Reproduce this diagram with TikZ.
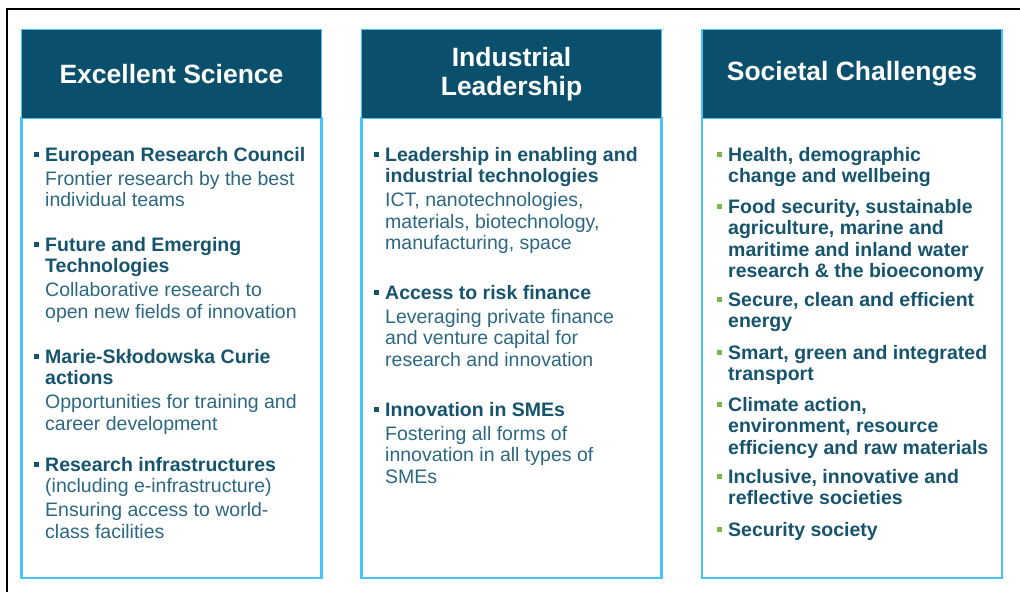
\documentclass[tikz,border=0pt]{standalone}
\usepackage{fontspec}
\setmainfont{Liberation Sans}
\definecolor{headfill}{RGB}{10,80,108}
\definecolor{edge}{RGB}{70,196,245}
\definecolor{boldtxt}{RGB}{22,84,110}
\definecolor{normtxt}{RGB}{44,104,130}
\definecolor{bulA}{RGB}{22,84,110}
\definecolor{bulG}{RGB}{122,182,72}
\newcommand\itemfont{\fontsize{19.5}{21.5}\selectfont}
\newcommand\B[1]{\textcolor{boldtxt}{\bfseries #1}}
\newcommand\N[1]{\textcolor{normtxt}{#1}}
\newcommand\bulA{\makebox[0pt][r]{\textcolor{bulA}{\rule[4.5pt]{4.5pt}{4.5pt}}\hspace{6.5pt}}}
\newcommand\bulG{\makebox[0pt][r]{\textcolor{bulG}{\rule[4.5pt]{4.5pt}{4.5pt}}\hspace{6.5pt}}}
\begin{document}
\begin{tikzpicture}[x=1pt,y=-1pt,
  body/.style={draw=edge,line width=2.5pt,fill=white,minimum width=300pt,minimum height=460pt,inner sep=0pt},
  head/.style={draw=edge,line width=1.5pt,fill=headfill,minimum width=300pt,minimum height=89pt,inner sep=0pt,
    text=white,font=\fontsize{26.5}{29}\selectfont\bfseries,align=center},
  item/.style={anchor=north west,inner sep=0pt,align=left,font=\itemfont},
  frame/.style={line width=1.6pt,draw=black}]
\useasboundingbox (0,0) rectangle (1020,592);
% outer frame
\coordinate (fl) at (7,592);
\coordinate (fc) at (7,9);
\coordinate (fr) at (1020,9);
\draw[frame] (fl) -- (fc) -- (fr);
% bodies
\node[body] (b1) at (171.5,348) {};
\node[body] (b2) at (511.5,348) {};
\node[body] (b3) at (852,348) {};
% headers
\node[head] (h1) at (171.5,74) {Excellent Science};
\node[head] (h2) at (511.5,74) {Industrial\\Leadership};
\node[head] (h3) at (852,74) {Societal Challenges};
% column 1
\node[item] (a1) at (45,146) {\strut\bulA\B{European Research Council}\\[2.5pt]\N{Frontier research by the best}\\\N{individual teams}};
\node[item] (a2) at (45,236) {\strut\bulA\B{Future and Emerging}\\\B{Technologies}\\[2.5pt]\N{Collaborative research to}\\\N{open new fields of innovation}};
\node[item] (a3) at (45,348) {\strut\bulA\B{Marie-Skłodowska Curie}\\\B{actions}\\[2.5pt]\N{Opportunities for training and}\\\N{career development}};
\node[item] (a4) at (45,456) {\strut\bulA\B{Research infrastructures}\\\N{(including e-infrastructure)}\\[2.5pt]\N{Ensuring access to world-}\\\N{class facilities}};
% column 2
\node[item] (c1) at (385,146) {\strut\bulA\B{Leadership in enabling and}\\\B{industrial technologies}\\[2.5pt]\N{ICT, nanotechnologies,}\\\N{materials, biotechnology,}\\\N{manufacturing, space}};
\node[item] (c2) at (385,284) {\strut\bulA\B{Access to risk finance}\\[2.5pt]\N{Leveraging private finance}\\\N{and venture capital for}\\\N{research and innovation}};
\node[item] (c3) at (385,401) {\strut\bulA\B{Innovation in SMEs}\\[2.5pt]\N{Fostering all forms of}\\\N{innovation in all types of}\\\N{SMEs}};
% column 3
\node[item] (s1) at (728,146) {\strut\bulG\B{Health, demographic}\\\B{change and wellbeing}};
\node[item] (s2) at (728,198) {\strut\bulG\B{Food security, sustainable}\\\B{agriculture, marine and}\\\B{maritime and inland water}\\\B{research \& the bioeconomy}};
\node[item] (s3) at (728,291) {\strut\bulG\B{Secure, clean and efficient}\\\B{energy}};
\node[item] (s4) at (728,344) {\strut\bulG\B{Smart, green and integrated}\\\B{transport}};
\node[item] (s5) at (728,396) {\strut\bulG\B{Climate action,}\\\B{environment, resource}\\\B{efficiency and raw materials}};
\node[item] (s6) at (728,468) {\strut\bulG\B{Inclusive, innovative and}\\\B{reflective societies}};
\node[item] (s7) at (728,521) {\strut\bulG\B{Security society}};
\end{tikzpicture}
\end{document}
